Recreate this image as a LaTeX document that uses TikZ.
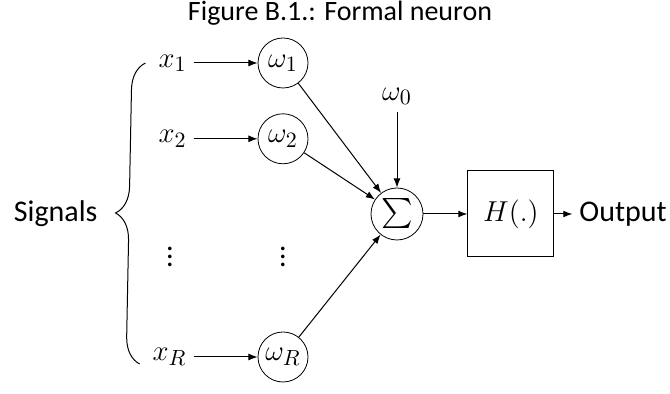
\documentclass[tikz,border=0pt]{standalone}
\usepackage{amsmath,amssymb}
\usepackage{fontspec}
\setmainfont{Carlito}
\usepackage{tikz}
\usetikzlibrary{positioning,arrows.meta,decorations.pathreplacing}

\begin{document}
\begin{tikzpicture}[
  x=0.5pt,y=-0.5pt,
  font=\fontsize{15}{18}\selectfont,
  weight/.style={draw,circle,minimum size=25pt,inner sep=0pt},
  ar/.style={-{Latex[length=1.6mm]},line width=0.5pt},
  node distance=12.5pt and 32pt]
\useasboundingbox (0,0) rectangle (670,394);
\node[font=\fontsize{14}{17}\selectfont] (title) at (340,13) {Figure B.1.: Formal neuron};
\node[weight] (w1) at (283,63) {$\omega_1$};
\node[weight,below=of w1] (w2) {$\omega_2$};
\node (wd) at (283,251) {$\vdots$};
\node[weight] (wR) at (283,357) {$\omega_R$};
\node[left=of w1] (x1) {$x_1$};
\node[left=of w2] (x2) {$x_2$};
\node (xd) at (170,251) {$\vdots$};
\node[left=of wR] (xR) {$x_R$};
\node[weight,minimum size=26pt] (sum) at (397,214) {$\sum$};
\node[above=38pt of sum] (w0) {$\omega_0$};
\node[draw,line width=0.5pt,minimum size=43pt,right=22pt of sum] (H) {$H(.)$};
\node[right=9pt of H] (out) {Output};
\draw[decorate,decoration={brace,amplitude=13.5pt},line width=0.5pt]
  ([xshift=-3pt,yshift=-3.5pt]xR.west) -- ([xshift=-3pt]x1.west)
  node[midway,left=19pt] (sig) {Signals};
\draw[ar] (x1) -- (w1);
\draw[ar] (x2) -- (w2);
\draw[ar] (xR) -- (wR);
\draw[ar] (w1) -- (sum);
\draw[ar] (w2) -- (sum);
\draw[ar] (wR) -- (sum);
\draw[ar] (w0) -- (sum);
\draw[ar] (sum) -- (H);
\draw[ar] (H) -- (out);
\end{tikzpicture}
\end{document}
